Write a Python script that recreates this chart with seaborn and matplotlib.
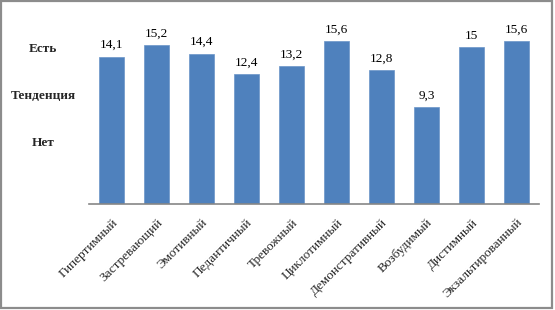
import matplotlib
matplotlib.use("Agg")
import matplotlib.pyplot as plt
from matplotlib.patches import Rectangle
import seaborn as sns
import pandas as pd

categories = ["Гипертимный", "Застревающий", "Эмотивный", "Педантичный", "Тревожный",
              "Циклотимный", "Демонстративный", "Возбудимый", "Дистимный", "Экзальтированный"]
values = [14.1, 15.2, 14.4, 12.4, 13.2, 15.6, 12.8, 9.3, 15.0, 15.6]
value_labels = ["14,1", "15,2", "14,4", "12,4", "13,2", "15,6", "12,8", "9,3", "15", "15,6"]
level_ticks = [15, 10.5, 6]
level_labels = ["Есть", "Тенденция", "Нет"]

sns.set_theme(style="white")
plt.rcParams["font.family"] = ["Liberation Serif", "DejaVu Serif"]

df = pd.DataFrame({"type": categories, "score": values})

fig = plt.figure(figsize=(5.55, 3.10), dpi=100)
ax = fig.add_axes([89 / 555, 1 - 204 / 310, 450 / 555, 188 / 310])

sns.barplot(data=df, x="type", y="score", color="#4F81BD", saturation=1,
            width=25 / 45, edgecolor="#6A94C8", linewidth=0.5, ax=ax)

for i, (v, lab) in enumerate(zip(values, value_labels)):
    ax.annotate(lab, (i, v), xytext=(0, 4), textcoords="offset points",
                ha="center", va="bottom", fontsize=9.5, color="black")

ax.set_ylim(0, 18)
ax.set_xlim(-0.5, len(categories) - 0.5)
ax.set_xlabel("")
ax.set_ylabel("")

ax.set_yticks(level_ticks)
ax.set_yticklabels(level_labels, fontsize=9.5, fontweight="bold")
ax.tick_params(axis="y", length=0, pad=33)
for t in ax.get_yticklabels():
    t.set_horizontalalignment("center")

ax.set_xticks(range(len(categories)))
ax.set_xticklabels(categories, rotation=45, ha="right", va="top",
                   rotation_mode="anchor", fontsize=9.5)
ax.tick_params(axis="x", length=0, pad=9)
for t in ax.get_xticklabels():
    t.set_x(0)

sns.despine(ax=ax, left=True, top=True, right=True)
ax.spines["bottom"].set_color("#868686")
ax.spines["bottom"].set_linewidth(1.2)

# frame around the chart area
fig.patches.append(Rectangle((1 / 555, 1 - 308 / 310), 551 / 555, 307 / 310,
                             transform=fig.transFigure, fill=False,
                             edgecolor="#8C8C8C", linewidth=1.6))

fig.savefig("out.png", dpi=100, facecolor="white")
